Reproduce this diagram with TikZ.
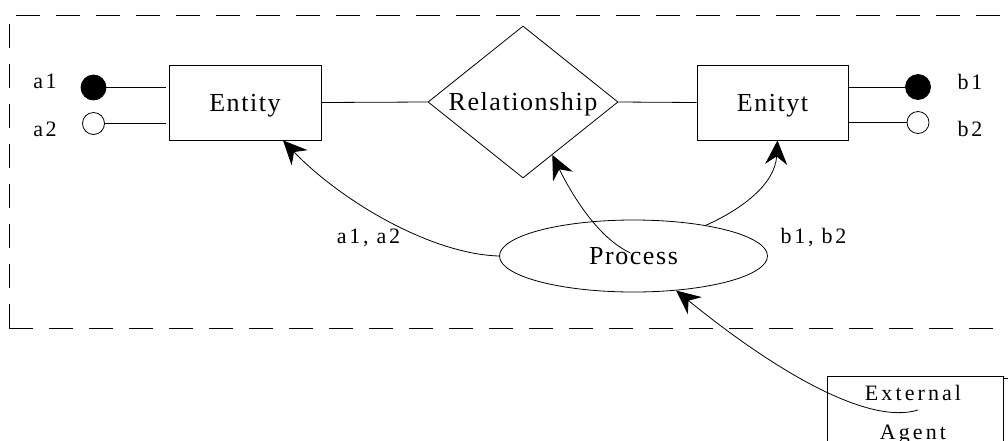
\documentclass[tikz,border=0pt]{standalone}
\usepackage{fontspec}
\setmainfont{Liberation Serif}
\newfontfamily\shapefont[LetterSpace=6]{Liberation Serif}
\newfontfamily\portfont[LetterSpace=12]{Liberation Serif}
\newfontfamily\agentfont[LetterSpace=14]{Liberation Serif}
\usetikzlibrary{shapes.geometric,arrows.meta,calc}

\tikzset{
  shapetext/.style={font=\shapefont\fontsize{26}{30}\selectfont, text height=17pt, text depth=0pt},
  entitybox/.style={draw, rectangle, inner sep=0pt, minimum height=75pt, shapetext},
  relbox/.style={draw, diamond, aspect=1.25, inner sep=0pt, minimum width=190pt, minimum height=152pt, shapetext},
  procbox/.style={draw, ellipse, inner sep=0pt, minimum width=268pt, minimum height=72pt, shapetext},
  agentbox/.style={draw, rectangle, inner sep=0pt, minimum width=176pt, minimum height=70pt},
  dotfull/.style={circle, draw, fill=black, inner sep=0pt, minimum size=25pt},
  dotempty/.style={circle, draw, fill=white, inner sep=0pt, minimum size=22pt},
  portlabel/.style={font=\portfont\fontsize{22}{26}\selectfont, anchor=base, inner sep=0pt},
  agentlabel/.style={font=\agentfont\fontsize{22}{26}\selectfont, anchor=base, inner sep=0pt},
  flow/.style={-{Stealth[length=24pt,width=22pt,inset=8pt]}},
  boundary/.style={dash pattern=on 24pt off 16pt}
}

\begin{document}
\begin{tikzpicture}[x=1pt, y=-1pt, line width=0.8pt]
  \useasboundingbox (0,0) rectangle (1008,440);
  \clip (0,0) rectangle (1008,440);

  % system boundary
  \draw[boundary] (9,328) -- (9,15) -- (1040,15);
  \draw[boundary] (9,328) -- (1040,328);

  % entities and relationship
  \node[entitybox, minimum width=152pt] (entity) at (245,102.5) {Entity};
  \node[relbox] (rel) at (523,102) {Relationship};
  \node[entitybox, minimum width=151pt] (enityt) at (772.5,102.5) {Enityt};
  \node[procbox] (proc) at (633.5,256) {Process};

  % external agent with its shadow
  \node[agentbox] (agentshadow) at (921,413) {};
  \node[agentbox, fill=white] (agent) at (915,411) {};
  \node[agentlabel] (agentl1) at (913,400) {External};
  \node[agentlabel] (agentl2) at (913,439) {Agent};

  % attribute ports
  \node[dotfull]  (a1dot) at (93.5,87.5) {};
  \node[dotempty] (a2dot) at (93.5,123.5) {};
  \node[dotfull]  (b1dot) at (918,87) {};
  \node[dotempty] (b2dot) at (918,122.5) {};

  \node[portlabel] (a1) at (45,88) {a1};
  \node[portlabel] (a2) at (45,136) {a2};
  \node[portlabel] (b1) at (970,89) {b1};
  \node[portlabel] (b2) at (970,136) {b2};
  \node[portlabel] (alab) at (368.5,243) {a1, a2};
  \node[portlabel] (blab) at (813.5,243) {b1, b2};

  \draw (a1dot.east) -- ($(a1dot -| entity.west)+(-3,0)$);
  \draw (a2dot.east) -- ($(a2dot -| entity.west)+(-3,0)$);
  \draw (b1dot -| enityt.east) -- (b1dot.west);
  \draw (b2dot -| enityt.east) -- (b2dot.west);

  \draw (entity.east) -- (rel.west);
  \draw (rel.east) -- (enityt.west);

  % process flows
  \draw[flow] (proc.west) .. controls (430,254) and (340,200) .. ([xshift=38pt]entity.south);
  \draw[flow] ([shift={(-3,-3)}]proc.center) .. controls (598,238) and (572,195) .. (rel.-61);
  \draw[flow] (proc.23) .. controls (740,210) and (775,185) .. ([xshift=5pt]enityt.south);
  \draw[flow] ([shift={(3,-1)}]agent.center) .. controls (870,425) and (780,375) .. (proc.-39.3);
\end{tikzpicture}
\end{document}
